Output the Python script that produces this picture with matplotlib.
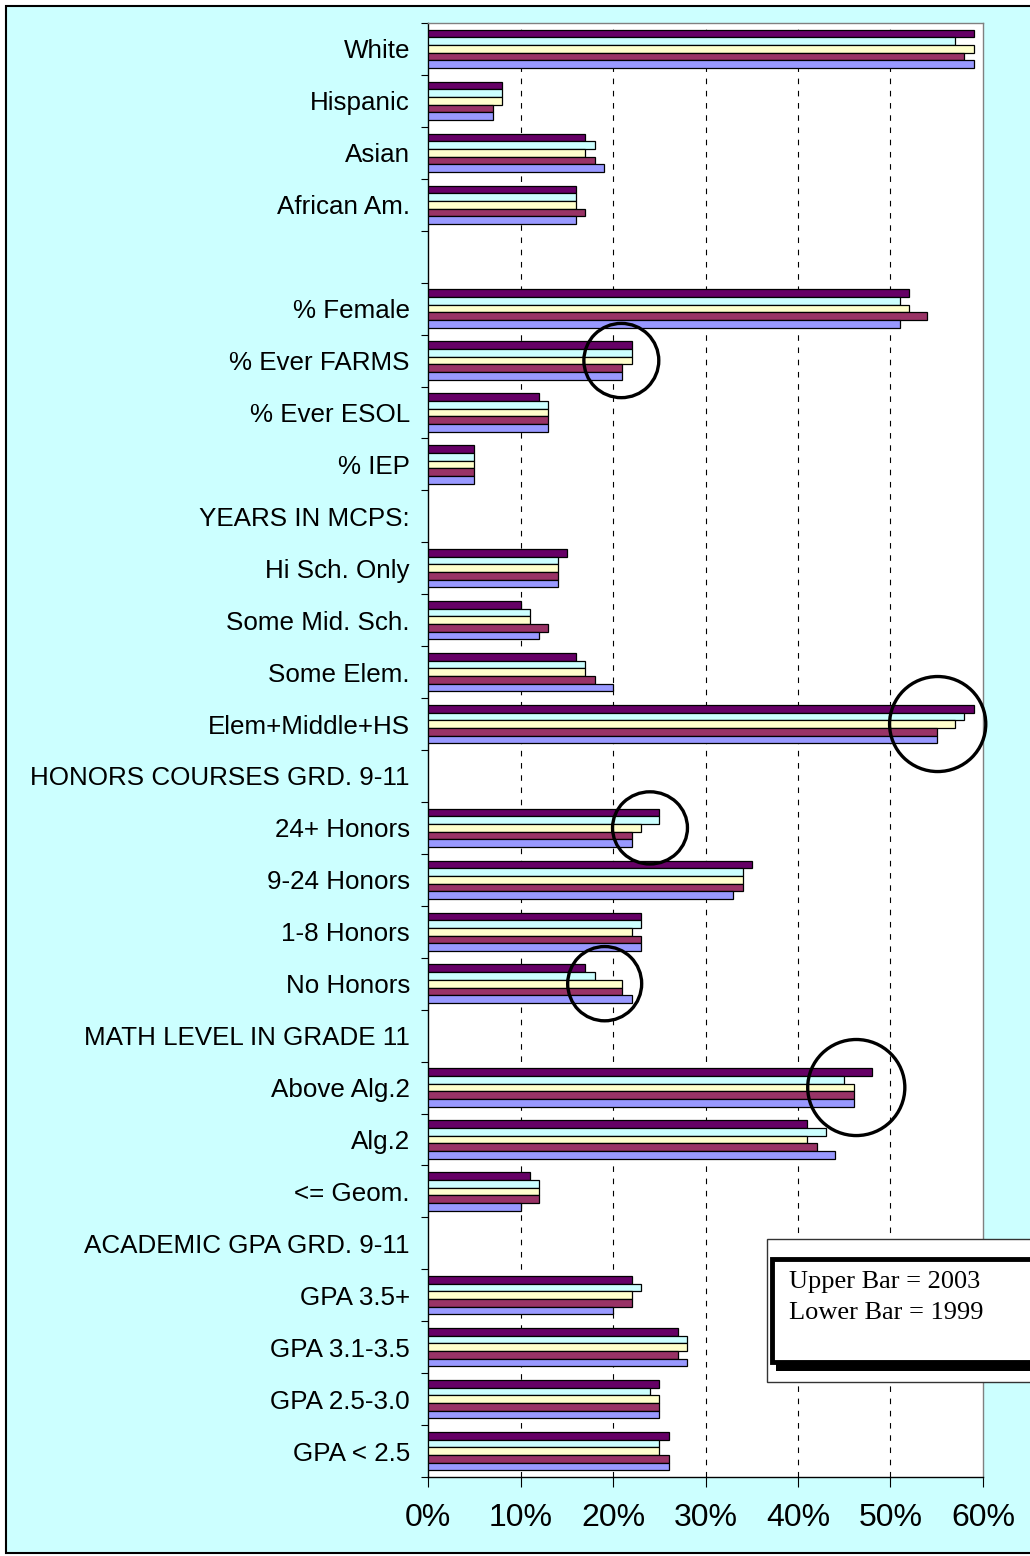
"""Horizontal grouped bars, 1999-2003 profile by category, with highlight circles."""
import matplotlib

matplotlib.use("Agg")
import matplotlib.pyplot as plt  # noqa: E402
import numpy as np  # noqa: E402
from matplotlib.patches import Ellipse, Rectangle  # noqa: E402
from matplotlib.ticker import FixedLocator, FuncFormatter  # noqa: E402

labels = ["White", "Hispanic", "Asian", "African Am.", "",
          "% Female", "% Ever FARMS", "% Ever ESOL", "% IEP",
          "YEARS IN MCPS:", "Hi Sch. Only", "Some Mid. Sch.", "Some Elem.",
          "Elem+Middle+HS", "HONORS COURSES GRD. 9-11", "24+ Honors",
          "9-24 Honors", "1-8 Honors", "No Honors", "MATH LEVEL IN GRADE 11",
          "Above Alg.2", "Alg.2", "<= Geom.", "ACADEMIC GPA GRD. 9-11",
          "GPA 3.5+", "GPA 3.1-3.5", "GPA 2.5-3.0", "GPA < 2.5"]

# percent values, None = heading row without bars
y2003 = [59, 8, 17, 16, None, 52, 22, 12, 5, None, 15, 10, 16, 59, None,
         25, 35, 23, 17, None, 48, 41, 11, None, 22, 27, 25, 26]
y2002 = [57, 8, 18, 16, None, 51, 22, 13, 5, None, 14, 11, 17, 58, None,
         25, 34, 23, 18, None, 45, 43, 12, None, 23, 28, 24, 25]
y2001 = [59, 8, 17, 16, None, 52, 22, 13, 5, None, 14, 11, 17, 57, None,
         23, 34, 22, 21, None, 46, 41, 12, None, 22, 28, 25, 25]
y2000 = [58, 7, 18, 17, None, 54, 21, 13, 5, None, 14, 13, 18, 55, None,
         22, 34, 23, 21, None, 46, 42, 12, None, 22, 27, 25, 26]
y1999 = [59, 7, 19, 16, None, 51, 21, 13, 5, None, 14, 12, 20, 55, None,
         22, 33, 23, 22, None, 46, 44, 10, None, 20, 28, 25, 26]

series = [y2003, y2002, y2001, y2000, y1999]
colors = ["#660066", "#CCFFFF", "#FFFFCC", "#993366", "#9999FF"]

# highlight circles: (category, x-centre %, width %, height in rows)
circles = [("% Ever FARMS", 20.9, 8.1, 1.43),
           ("Elem+Middle+HS", 55.1, 10.4, 1.83),
           ("24+ Honors", 24.0, 8.1, 1.39),
           ("No Honors", 19.1, 8.0, 1.43),
           ("Above Alg.2", 46.3, 10.5, 1.85)]

W, H = 1030, 1556
SANS = ["Liberation Sans", "DejaVu Sans"]
SERIF = ["Liberation Serif", "DejaVu Serif"]


def fx(px):
    return px / W


def fy(py):
    return 1 - py / H


def main() -> None:
    fig = plt.figure(figsize=(W / 100, H / 100), dpi=100, facecolor="white")
    fig.patches.append(Rectangle((fx(6), fy(1553)), fx(1040 - 6), (1553 - 6) / H,
                                 transform=fig.transFigure, facecolor="#CCFFFF",
                                 edgecolor="black", lw=1.5, zorder=-5))

    ax = fig.add_axes([fx(428), fy(1477), fx(983 - 428), (1477 - 23) / H])
    ax.set_facecolor("white")

    n = len(labels)
    y = np.arange(n)
    h = 0.148
    for j, (vals, col) in enumerate(zip(series, colors)):
        idx = [i for i, v in enumerate(vals) if v is not None]
        ax.barh(y[idx] + (j - 2) * h, [vals[i] for i in idx], h,
                color=col, edgecolor="black", linewidth=0.9, zorder=3)

    ax.set_xlim(0, 60)
    ax.set_ylim(n - 0.5, -0.5)
    ax.set_xticks(np.arange(0, 61, 10))
    ax.xaxis.set_major_formatter(FuncFormatter(lambda v, _: f"{v:.0f}%"))
    ax.set_yticks(y)
    ax.set_yticklabels(labels, family=SANS, fontsize=18.7)
    ax.yaxis.set_minor_locator(FixedLocator(np.arange(-0.5, n, 1.0)))
    ax.tick_params(axis="y", which="major", length=0, pad=13)
    ax.tick_params(axis="y", which="minor", length=5, width=0.8, direction="out")
    ax.tick_params(axis="x", length=7, width=0.8, direction="out", pad=12,
                   labelsize=23)
    for t in ax.get_xticklabels():
        t.set_family(SANS)

    for v in range(10, 60, 10):
        ax.axvline(v, color="black", lw=0.8, ls=(0, (5, 6)), zorder=1)

    for side in ("left", "bottom"):
        ax.spines[side].set_color("black")
        ax.spines[side].set_linewidth(1.0)
    for side in ("top", "right"):
        ax.spines[side].set_color("#808080")
        ax.spines[side].set_linewidth(1.0)

    for cat, cx, w, hh in circles:
        ax.add_patch(Ellipse((cx, labels.index(cat)), w, hh, fill=False,
                             edgecolor="black", lw=2.4, zorder=6, clip_on=False))

    # note box
    fig.patches.append(Rectangle((fx(767), fy(1382)), fx(1040 - 767), (1382 - 1239) / H,
                                 transform=fig.transFigure, facecolor="white",
                                 edgecolor="#333333", lw=1.0, zorder=5))
    fig.patches.append(Rectangle((fx(776), fy(1371)), fx(1040 - 776), (1371 - 1362) / H,
                                 transform=fig.transFigure, facecolor="black",
                                 edgecolor="none", zorder=6))
    fig.patches.append(Rectangle((fx(772), fy(1362)), fx(1040 - 772), (1362 - 1259) / H,
                                 transform=fig.transFigure, facecolor="white",
                                 edgecolor="black", lw=3.5, zorder=7))
    fig.text(fx(789), fy(1282), "Upper Bar = 2003", va="center", ha="left",
             family=SERIF, fontsize=19, zorder=8)
    fig.text(fx(789), fy(1313), "Lower Bar = 1999", va="center", ha="left",
             family=SERIF, fontsize=19, zorder=8)

    fig.savefig("out.png", dpi=100, facecolor=fig.get_facecolor())


if __name__ == "__main__":
    main()
